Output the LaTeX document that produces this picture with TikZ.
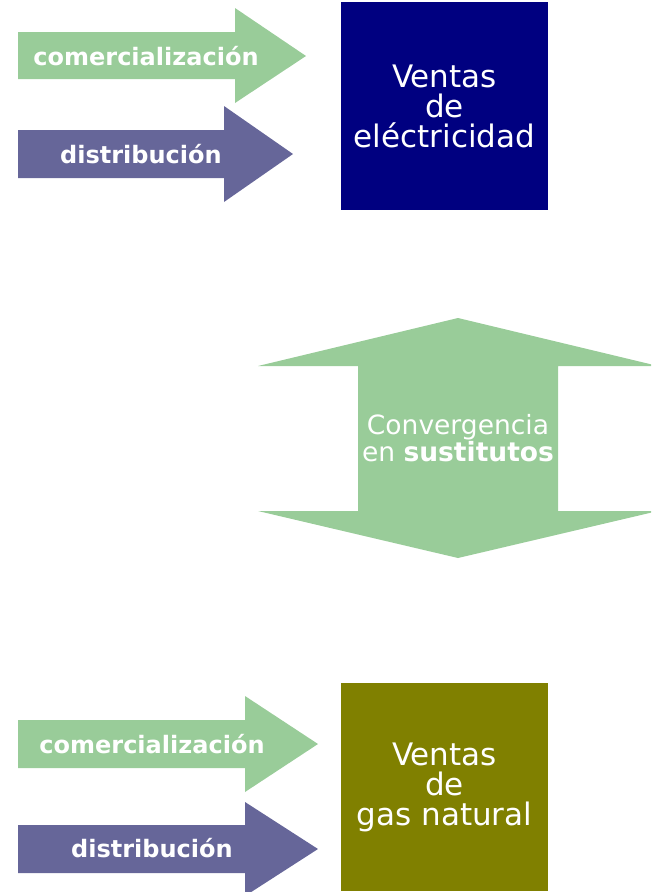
\documentclass[tikz,border=0pt]{standalone}
\usepackage{fontspec}
\setmainfont{DejaVu Sans}
\usepackage{xcolor}
\usetikzlibrary{positioning}
\definecolor{verde}{HTML}{99CC99}
\definecolor{lila}{HTML}{666699}
\definecolor{marino}{HTML}{000080}
\definecolor{oliva}{HTML}{808000}

\begin{document}
\begin{tikzpicture}[x=1pt,y=-1pt,
    rotulo/.style={text=white, inner sep=0pt, font=\fontsize{24}{26}\selectfont\bfseries},
    caja/.style={text=white, align=center, inner sep=0pt, minimum width=207pt, minimum height=208pt, font=\fontsize{31}{30}\selectfont}]
\useasboundingbox (0,0) rectangle (651,892);
\clip (0,0) rectangle (651,892);

% arriba: electricidad
\begin{scope}{
\fill[verde] (18,32) --++(217,0) --++(0,-24) -- (306,56) -- (235,103) --++(0,-24) -- (18,79) -- cycle;
\fill[lila] (18,130) --++(206,0) --++(0,-24) -- (293,154) -- (224,202) --++(0,-24) -- (18,178) -- cycle;

\node[rotulo] (comA) at (146,56) {comercialización};
\node[rotulo] (distA) at (141,154) {distribución};

\node[caja, fill=marino] (electricidad) at (444.5,106) {Ventas\\de\\eléctricidad};
} \end{scope}

% centro: doble flecha
\begin{scope}{
\fill[verde] (458,318) -- (658,366) -- (558,366) -- (558,511) -- (658,511) -- (458,558)
  -- (258,511) -- (358,511) -- (358,366) -- (258,366) -- cycle;

\node[text=white, align=center, inner sep=0pt, font=\fontsize{26.5}{21}\selectfont] (convergencia) at (458,438)
  {Convergencia\\en \textbf{sustitutos}};
} \end{scope}

% abajo: gas natural
\begin{scope}{
\fill[verde] (18,720) --++(227,0) --++(0,-24) -- (318,744) -- (245,792) --++(0,-24) -- (18,768) -- cycle;
\fill[lila] (18,825) --++(227,0) --++(0,-23) -- (318,849) -- (245,896) --++(0,-23) -- (18,873) -- cycle;

\node[rotulo] (comB) at (152,744) {comercialización};
\node[rotulo] (distB) at (152,848) {distribución};

\node[caja, fill=oliva] (gas) at (444.5,787) {Ventas\\de\\gas natural};
} \end{scope}

\end{tikzpicture}
\end{document}
